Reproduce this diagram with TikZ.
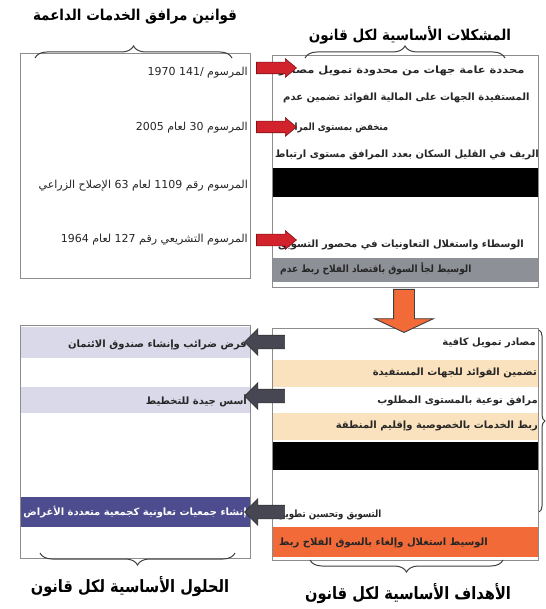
\documentclass[tikz,border=0pt]{standalone}
\usepackage{fontspec}
\usetikzlibrary{shapes.arrows,decorations.pathreplacing}
\TeXXeTstate=1
\newfontfamily\arl[Script=Arabic]{DejaVu Sans}
\newfontfamily\arb[Script=Arabic]{DejaVu Sans Bold}
\newfontfamily\art[Script=Arabic,FakeStretch=0.9]{DejaVu Sans Bold}
\newfontfamily\artb[Script=Arabic,FakeStretch=0.86]{DejaVu Sans Bold}
\definecolor{boxline}{HTML}{8C8C8C}
\definecolor{lav}{HTML}{D9D9E9}
\definecolor{purp}{HTML}{4C4C8E}
\definecolor{beige}{HTML}{FBE2BE}
\definecolor{orng}{HTML}{F26A38}
\definecolor{grayband}{HTML}{8E9098}
\definecolor{redarr}{HTML}{D2222C}
\definecolor{grayarr}{HTML}{474753}
\begin{document}
\begin{tikzpicture}[x=1pt,y=-1pt,
  box/.style={draw=boxline, line width=0.9pt, inner sep=0pt, anchor=north west},
  txt/.style={font=\arb\fontsize{10}{12}\selectfont, inner sep=0pt, text=black!85},
  ltxt/.style={font=\arl\fontsize{11}{13}\selectfont, inner sep=0pt, text=black!85},
  title/.style={font=\art\fontsize{15}{17}\selectfont, inner sep=0pt, text=black},
  btitle/.style={font=\artb\fontsize{17}{19}\selectfont, inner sep=0pt, text=black},
  bracestyle/.style={draw=black!75, line width=1pt, decorate, decoration={brace, amplitude=12pt}},
  redarrow/.style={single arrow, fill=redarr, draw=redarr!60!black, line width=0.6pt,
    minimum height=40pt, minimum width=18pt, single arrow head extend=3.5pt,
    single arrow tip angle=80, inner xsep=0pt, inner ysep=5.5pt},
  grayarrow/.style={single arrow, shape border rotate=180, fill=grayarr, draw=black!80, line width=0.6pt,
    minimum height=40pt, minimum width=26pt, single arrow head extend=6.5pt,
    single arrow tip angle=90, inner xsep=0pt, inner ysep=6.5pt}
]
\useasboundingbox (0,0) rectangle (545,609);
\fill[white] (0,0) rectangle (545,609);

% ---- bands ----
\fill[black] (272,168) rectangle (538,197);
\fill[grayband] (272,258) rectangle (538,282);
\fill[lav] (20,327) rectangle (250,358);
\fill[lav] (20,387) rectangle (250,413);
\fill[purp] (20,497) rectangle (250,527);
\fill[beige] (272,360) rectangle (538,387);
\fill[beige] (272,413) rectangle (538,440);
\fill[black] (272,442) rectangle (538,470);
\fill[orng] (272,527) rectangle (538,557);

% ---- boxes ----
\node[box, minimum width=230pt, minimum height=225pt] (lt) at (20,53) {};
\node[box, minimum width=266pt, minimum height=232pt] (rt) at (272,55) {};
\node[box, minimum width=230pt, minimum height=233pt] (lb) at (20,325) {};
\node[box, minimum width=266pt, minimum height=232pt] (rb) at (272,328) {};

% ---- titles and braces ----
\node[title] (ttl1) at (135,17) {\beginR قوانين مرافق الخدمات الداعمة\endR};
\node[title] (ttl2) at (410,35) {\beginR المشكلات الأساسية لكل قانون\endR};
\node[btitle] (ttl3) at (130,587) {\beginR الحلول الأساسية لكل قانون\endR};
\node[btitle] (ttl4) at (408,594) {\beginR الأهداف الأساسية لكل قانون\endR};
\coordinate (b1a) at (35,58); \coordinate (b1b) at (232,58);
\coordinate (b2a) at (305,58); \coordinate (b2b) at (505,58);
\coordinate (b3a) at (235,553); \coordinate (b3b) at (40,553);
\coordinate (b4a) at (503,560); \coordinate (b4b) at (310,560);
\coordinate (b5a) at (539,330); \coordinate (b5b) at (539,512);
\draw[bracestyle] (b1a) -- (b1b);
\draw[bracestyle] (b2a) -- (b2b);
\draw[bracestyle] (b3a) -- (b3b);
\draw[bracestyle] (b4a) -- (b4b);
\draw[bracestyle, decoration={brace, amplitude=6pt}] (b5a) -- (b5b);

% ---- left top texts ----
\node[ltxt, anchor=east] (l1) at (248,73) {\beginR المرسوم \beginL 1970 /141\endL\endR};
\node[ltxt, anchor=east] (l2) at (248,128) {\beginR المرسوم 30 لعام 2005\endR};
\node[ltxt, anchor=east] (l3) at (248,186) {\beginR المرسوم رقم 1109 لعام 63 الإصلاح الزراعي\endR};
\node[ltxt, anchor=east] (l4) at (248,240) {\beginR المرسوم التشريعي رقم 127 لعام 1964\endR};

% ---- right top texts (the picture prints their words left to right) ----
\node[txt, anchor=west] (r1) at (279,71) {\scalebox{1.15}[1]{\beginR محددة عامة جهات من محدودة تمويل مصادر\endR}};
\node[txt, anchor=west] (r2) at (283,98) {\beginR المستفيدة الجهات على المالية الفوائد تضمين عدم\endR};
\node[txt, anchor=west] (r3) at (281,128) {\scalebox{0.86}[1]{\beginR منخفض بمستوى المرافق\endR}};
\node[txt, anchor=west] (r4) at (275,155) {\beginR الريف في القليل السكان بعدد المرافق مستوى ارتباط\endR};
\node[txt, anchor=west] (r5) at (278,245) {\beginR الوسطاء واستغلال التعاونيات في محصور التسويق\endR};
\node[txt, anchor=west] (r6) at (280,269) {\scalebox{0.9}[1]{\beginR الوسيط لجأ السوق باقتصاد الفلاح ربط عدم\endR}};

% ---- left bottom texts ----
\node[txt, anchor=east] (s1) at (247,345) {\beginR فرض ضرائب وإنشاء صندوق الائتمان\endR};
\node[txt, anchor=east] (s2) at (247,401) {\beginR أسس جيدة للتخطيط\endR};
\node[txt, anchor=east, text=white] (s3) at (247,512) {\beginR إنشاء جمعيات تعاونية كجمعية متعددة الأغراض\endR};

% ---- right bottom texts ----
\node[txt, anchor=east] (g1) at (536,343) {\beginR مصادر تمويل كافية\endR};
\node[txt, anchor=east] (g2) at (537,373) {\beginR تضمين الفوائد للجهات المستفيدة\endR};
\node[txt, anchor=east] (g3) at (538,401) {\beginR مرافق نوعية بالمستوى المطلوب\endR};
\node[txt, anchor=east] (g4) at (538,426) {\beginR ربط الخدمات بالخصوصية وإقليم المنطقة\endR};
\node[txt, anchor=west] (g5) at (280,515) {\scalebox{0.86}[1]{\beginR التسويق وتحسين تطوير\endR}};
\node[txt, anchor=west] (g6) at (279,543) {\beginR الوسيط استغلال وإلغاء بالسوق الفلاح ربط\endR};

% ---- block arrows ----
\node[redarrow] (ra1) at (273,68) {};
\node[redarrow] (ra2) at (273,127) {};
\node[redarrow] (ra3) at (273,240) {};
\node[grayarrow] (ga1) at (268,342) {};
\node[grayarrow] (ga2) at (268,396) {};
\node[grayarrow] (ga3) at (268,512) {};
\node[single arrow, shape border rotate=270, fill=orng, draw=black!75, line width=0.9pt,
  minimum height=43pt, minimum width=58pt, single arrow head extend=19pt,
  single arrow tip angle=130, inner sep=10pt] (down) at (404,308.5) {};
\end{tikzpicture}
\end{document}
